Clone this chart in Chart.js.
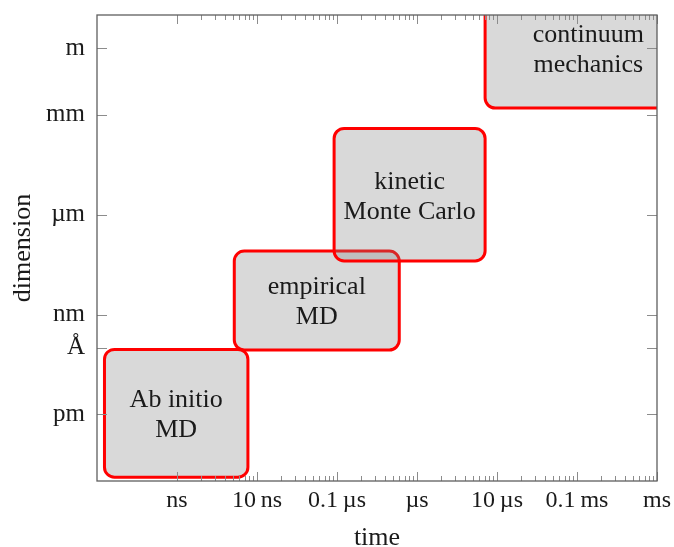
<!DOCTYPE html>
<html>
<head>
<meta charset="utf-8">
<script src="https://cdn.jsdelivr.net/npm/chart.js@4.4.0/dist/chart.umd.min.js"></script>
<style>
  html, body { margin: 0; padding: 0; background: #fff; }
  #wrap { width: 674px; height: 547px; }
</style>
</head>
<body>
<div id="wrap"><canvas id="scaleChart"></canvas></div>
<script>
// simulation methods and the time / length ranges they cover
const methods = [['Ab initio', 'MD'], ['empirical', 'MD'], ['kinetic', 'Monte Carlo'], ['continuum', 'mechanics']];
const timeFrom = [1.24e-10, 5.2e-9, 9.2e-8, 7.1e-6];
const timeTo = [7.7e-9, 6.0e-7, 7.1e-6, 2.7e-3];
const sizeFrom = [1.3e-14, 8.6e-11, 4.1e-8, 1.6e-3];
const sizeTo = [9e-11, 8.1e-8, 3.9e-4, 6.5];

// axis ticks
const timeTicks = [1e-9, 1e-8, 1e-7, 1e-6, 1e-5, 1e-4, 1e-3];
const timeTickLabels = ['ns', '10\u2009ns', '0.1\u2009\u00b5s', '\u00b5s', '10\u2009\u00b5s', '0.1\u2009ms', 'ms'];
const sizeTicks = [1e-12, 1e-10, 1e-9, 1e-6, 1e-3, 1e-1];
const sizeTickLabels = ['pm', '\u00c5', 'nm', '\u00b5m', 'mm', 'm'];

const timeMinorTicks = [];
for (let e = -9; e <= -4; e++) {
  for (let m = 2; m <= 9; m++) timeMinorTicks.push(m * Math.pow(10, e));
}

const serif = 'Liberation Serif';

const boxPlugin = {
  id: 'methodBoxes',
  afterDatasetsDraw(chart) {
    const {ctx, chartArea: a, scales: {x, y}} = chart;
    const rects = chart.data.datasets.map(ds => {
      const px = ds.data.map(p => x.getPixelForValue(p.x));
      const py = ds.data.map(p => y.getPixelForValue(p.y));
      return {
        left: Math.min(...px), right: Math.max(...px),
        top: Math.min(...py), bottom: Math.max(...py)
      };
    });

    ctx.save();
    ctx.beginPath();
    ctx.rect(a.left, a.top, a.right - a.left, a.bottom - a.top);
    ctx.clip();
    chart.data.datasets.forEach((ds, i) => {
      const r = rects[i];
      ctx.beginPath();
      ctx.roundRect(r.left, r.top, r.right - r.left, r.bottom - r.top, 10);
      ctx.fillStyle = ds.backgroundColor;
      ctx.fill();
      ctx.lineWidth = ds.borderWidth;
      ctx.strokeStyle = ds.borderColor;
      ctx.stroke();
    });

    ctx.fillStyle = '#1a1a1a';
    ctx.font = '26px "' + serif + '"';
    ctx.textAlign = 'center';
    ctx.textBaseline = 'middle';
    methods.forEach((lines, i) => {
      const r = rects[i];
      const cx = (r.left + r.right) / 2;
      const cy = (r.top + r.bottom) / 2 + 2;
      lines.forEach((t, j) => {
        ctx.fillText(t, cx, cy + (j - (lines.length - 1) / 2) * 30);
      });
    });
    ctx.restore();
  },
  afterDraw(chart) {
    const {ctx, chartArea: a, scales: {x, y}} = chart;
    ctx.save();
    // inward tick marks on all four sides
    ctx.strokeStyle = '#8c8c8c';
    ctx.lineWidth = 1;
    ctx.beginPath();
    const xTick = (v, len) => {
      const px = Math.round(x.getPixelForValue(v)) + 0.5;
      ctx.moveTo(px, a.bottom); ctx.lineTo(px, a.bottom - len);
      ctx.moveTo(px, a.top); ctx.lineTo(px, a.top + len);
    };
    timeTicks.forEach(v => xTick(v, 9));
    timeMinorTicks.forEach(v => xTick(v, 5));
    sizeTicks.forEach(v => {
      const py = Math.round(y.getPixelForValue(v)) + 0.5;
      ctx.moveTo(a.left, py); ctx.lineTo(a.left + 10, py);
      ctx.moveTo(a.right, py); ctx.lineTo(a.right - 10, py);
    });
    ctx.stroke();
    // axis frame
    ctx.strokeStyle = '#5f5f5f';
    ctx.lineWidth = 1.3;
    ctx.strokeRect(a.left, a.top, a.right - a.left, a.bottom - a.top);
    ctx.restore();
  }
};

const ctx = document.getElementById('scaleChart').getContext('2d');
const scaleChart = new Chart(ctx, {
  type: 'scatter',
  data: {
    datasets: methods.map((m, i) => ({
      label: m.join(' '),
      data: [{x: timeFrom[i], y: sizeFrom[i]}, {x: timeTo[i], y: sizeTo[i]}],
      backgroundColor: 'rgba(128, 128, 128, 0.3)',
      borderColor: '#ff0000',
      borderWidth: 3,
      pointRadius: 0,
      showLine: false
    }))
  },
  options: {
    responsive: true,
    maintainAspectRatio: false,
    animation: false,
    events: [],
    devicePixelRatio: 1,
    layout: { padding: { top: 15, right: 17, left: 0, bottom: 0 } },
    plugins: {
      legend: { display: false },
      tooltip: { enabled: false }
    },
    scales: {
      x: {
        type: 'logarithmic',
        position: 'bottom',
        min: 1e-10,
        max: 1e-3,
        afterBuildTicks: s => { s.ticks = timeTicks.map(v => ({ value: v })); },
        afterFit: s => { s.height = 66; s.paddingLeft = 0; s.paddingRight = 0; },
        grid: { display: false },
        border: { display: false },
        ticks: {
          autoSkip: false,
          maxRotation: 0,
          padding: 0,
          color: '#1a1a1a',
          font: { family: serif, size: 24, lineHeight: 1 },
          callback: (v, i) => timeTickLabels[i]
        },
        title: {
          display: true,
          text: 'time',
          color: '#1a1a1a',
          font: { family: serif, size: 26, lineHeight: 0.7 },
          padding: { top: 0, bottom: 0 }
        }
      },
      y: {
        type: 'logarithmic',
        position: 'left',
        min: 1e-14,
        max: 1,
        afterBuildTicks: s => { s.ticks = sizeTicks.map(v => ({ value: v })); },
        afterFit: s => { s.width = 97; s.paddingTop = 0; s.paddingBottom = 0; },
        grid: { display: false },
        border: { display: false },
        ticks: {
          autoSkip: false,
          padding: 4,
          color: '#1a1a1a',
          font: { family: serif, size: 25 },
          callback: (v, i) => sizeTickLabels[i]
        },
        title: {
          display: true,
          text: 'dimension',
          color: '#1a1a1a',
          font: { family: serif, size: 26, lineHeight: 1 },
          padding: { top: 10, bottom: 0 }
        }
      }
    }
  },
  plugins: [boxPlugin]
});
</script>
</body>
</html>
